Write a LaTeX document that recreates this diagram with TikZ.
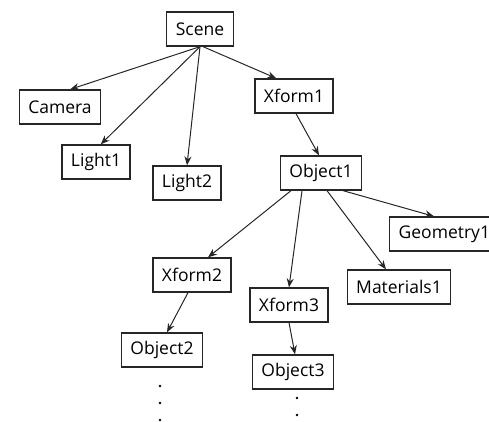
\documentclass[tikz,border=0pt]{standalone}
\usepackage{fontspec}
\setmainfont{Open Sans}
\usepackage{tikz}
\usetikzlibrary{arrows.meta}

\begin{document}
\begin{tikzpicture}[x=1pt,y=-1pt,
	box/.style={draw=black!85,line width=1.3pt,fill=white,font=\fontsize{17.5}{20}\selectfont,minimum height=34pt,inner xsep=9pt},
	link/.style={-{Stealth[length=9pt,width=7pt]},line width=1pt,black!85}]
	\useasboundingbox (0,0) rectangle (489,422);
	\node[box] (scene) at (200,29) {Scene};
	\node[box] (camera) at (60,107) {Camera};
	\node[box] (light1) at (96,162) {Light1};
	\node[box] (light2) at (187,183) {Light2};
	\node[box] (xform1) at (294,96) {Xform1};
	\node[box] (object1) at (321,173) {Object1};
	\node[box,anchor=west] (geometry1) at (389,234) {Geometry1};
	\node[box] (materials1) at (399,287) {Materials1};
	\node[box] (xform2) at (192,275) {Xform2};
	\node[box] (xform3) at (289,305) {Xform3};
	\node[box] (object2) at (162,350) {Object2};
	\node[box] (object3) at (293,372) {Object3};
	\draw[link] (scene.south) -- (camera.60);
	\draw[link] (scene.south) -- (light1.75);
	\draw[link] (scene.south) -- (light2.north);
	\draw[link] ([xshift=3]scene.south) -- (xform1.135);
	\draw[link] ([xshift=2]xform1.south) -- ([xshift=-2]object1.north);
	\draw[link] ([xshift=-30]object1.south) -- ([xshift=16]xform2.north);
	\draw[link] ([xshift=-19]object1.south) -- (xform3.north);
	\draw[link] ([xshift=6]object1.south) -- ([xshift=-13]materials1.north);
	\draw[link] ([xshift=22]object1.south) -- ([xshift=45]geometry1.north west);
	\draw[link] ([xshift=-4]xform2.south) -- ([xshift=5]object2.north);
	\draw[link] (xform3.south) -- ([xshift=2]object3.north);
	% continuation dots
	\foreach \y in {386,403,420} \fill (160,\y) circle (1.3);
	\foreach \y in {398,415} \fill (297,\y) circle (1.3);
\end{tikzpicture}
\end{document}
